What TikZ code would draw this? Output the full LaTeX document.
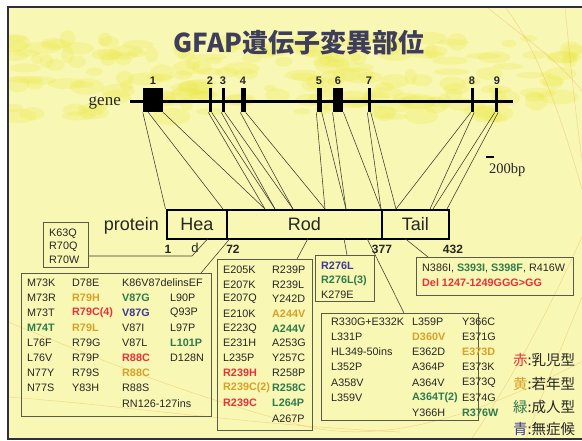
\documentclass[tikz,border=0pt]{standalone}
\usepackage{fontspec}
\newfontfamily\arialf{Liberation Sans}
\newfontfamily\timesf{Liberation Serif}
\newfontfamily\jpf{Noto Sans CJK JP}
\definecolor{slide}{HTML}{F9F7B4}
\definecolor{blot}{HTML}{EDEA4A}
\definecolor{frameC}{HTML}{2E2E3E}
\definecolor{ink}{HTML}{262626}
\definecolor{wire}{HTML}{3A3A30}
\definecolor{boxline}{HTML}{5A5A4A}
\definecolor{deco}{HTML}{E8B860}
\definecolor{mRed}{HTML}{E5323B}
\definecolor{mOra}{HTML}{D6A12A}
\definecolor{mGrn}{HTML}{2F7A4E}
\definecolor{mBlu}{HTML}{3A3A92}
\definecolor{titleC}{HTML}{3E3E5C}
\newcommand\mfont{\arialf\fontsize{10.8}{12}\selectfont}
\begin{document}
\begin{tikzpicture}[x=1pt,y=-1pt,
  mut/.style={anchor=west,inner sep=0pt,text=ink,font=\mfont},
  mr/.style={mut,text=mRed,font=\mfont\bfseries},
  mo/.style={mut,text=mOra,font=\mfont\bfseries},
  mg/.style={mut,text=mGrn,font=\mfont\bfseries},
  mb/.style={mut,text=mBlu,font=\mfont\bfseries},
  mbox/.style={draw=boxline,line width=0.8pt,inner sep=0pt,anchor=north west},
  exon/.style={fill=black,inner sep=0pt,minimum height=24pt,anchor=north},
  exnum/.style={font=\arialf\bfseries\fontsize{11}{12}\selectfont,inner sep=0pt,text=ink},
  link/.style={draw=wire,line width=0.55pt},
  dom/.style={draw=black,line width=1.6pt,inner sep=0pt,minimum height=29pt,
    anchor=north west,font=\arialf\fontsize{18}{20}\selectfont,text=ink},
  aanum/.style={font=\arialf\bfseries\fontsize{12}{14}\selectfont,inner sep=0pt,text=ink},
  leg/.style={anchor=west,inner sep=0pt,font=\jpf\fontsize{14.5}{16}\selectfont,text=ink},
  swirl/.style={draw=deco,opacity=0.5,line width=0.5pt},
]
\useasboundingbox (0,0) rectangle (582,441);
\clip (0,0) rectangle (582,441);
% slide background
\fill[white] (0,0) rectangle (582,441);
\fill[slide] (8,7) rectangle (600,439);
\begin{scope}
  \clip (8,7) rectangle (600,439);
  \pgfmathsetseed{11}
  \foreach \i in {1,...,190}{
    \pgfmathsetmacro\xx{12+566*rnd}
    \pgfmathsetmacro\yy{38+80*rnd}
    \pgfmathsetmacro\rx{6+14*rnd}
    \pgfmathsetmacro\ry{3+6*rnd}
    \fill[blot,opacity=0.26] (\xx,\yy) ellipse ({\rx pt} and {\ry pt});
  }
  % template swirls
  \draw[swirl] (487,7) .. controls (520,35) and (560,60) .. (585,95);
  \draw[swirl] (505,7) .. controls (535,45) and (560,110) .. (585,200);
  \draw[swirl] (565,7) .. controls (570,60) and (576,120) .. (585,180);
  \draw[swirl] (585,230) .. controls (545,320) and (505,390) .. (470,441);
  \draw[swirl] (585,290) .. controls (560,350) and (540,400) .. (525,441);
  \draw[swirl] (8,322) .. controls (90,355) and (170,390) .. (300,425) .. controls (380,445) and (470,420) .. (585,360);
  \draw[swirl] (8,397) .. controls (120,405) and (250,425) .. (400,432);
\end{scope}
\draw[frameC,line width=1.6pt] (600,439) -- (8,439) -- (8,7) -- (600,7);

% title
\node[font=\jpf\bfseries\fontsize{26}{28}\selectfont,text=titleC,inner sep=0pt] (title) at (299,43) {GFAP遺伝子変異部位};

% gene with exons
\coordinate (gL) at (130,101.7);
\coordinate (gR) at (513,101.7);
\draw[line width=3pt] (gL) -- (gR);
\node[font=\timesf\fontsize{17}{18}\selectfont,anchor=base east,inner sep=0pt,text=ink] (gene) at (121,106) {gene};
\node[exon,minimum width=20pt] (e1) at (153,88) {};
\node[exon,minimum width=3pt] (e2) at (210,88) {};
\node[exon,minimum width=3pt] (e3) at (223,88) {};
\node[exon,minimum width=5pt] (e4) at (243,88) {};
\node[exon,minimum width=5pt] (e5) at (319,88) {};
\node[exon,minimum width=10.5pt] (e6) at (338,88) {};
\node[exon,minimum width=3pt] (e7) at (369,88) {};
\node[exon,minimum width=3pt] (e8) at (472.5,88) {};
\node[exon,minimum width=3pt] (e9) at (496.5,88) {};
\foreach \n/\x in {1/153,2/210,3/223,4/243,5/319,6/338,7/369,8/472,9/497}
  \node[exnum] (n\n) at (\x,81) {\n};

% scale bar
\draw[line width=2pt] (486,157) -- (494,157);
\node[font=\timesf\fontsize{14.5}{16}\selectfont,anchor=west,inner sep=0pt,text=ink] (bp) at (489,170) {200bp};

% exon boundaries on the protein
\coordinate (q1) at (165.5,209);
\coordinate (q2) at (223,209);
\coordinate (q3) at (265,209);
\coordinate (q4) at (275,209);
\coordinate (q5) at (293,209);
\coordinate (q6) at (325,209);
\coordinate (q7) at (346,209);
\coordinate (q8) at (381,209);
\coordinate (q9) at (396,209);
\coordinate (q10) at (430,209);
\coordinate (q11) at (433,209);
\coordinate (q12) at (447,209);
\coordinate (e1m) at (148,112);
\draw[link] (e1.south west) -- (q1);
\draw[link] (e1m) -- (q2);
\draw[link] (e1.south east) -- (q3);
\draw[link] (e2.south west) -- (q3);
\draw[link] (e2.south east) -- (q4);
\draw[link] (e3.south west) -- (q4);
\draw[link] (e3.south east) -- (q5);
\draw[link] (e4.south west) -- (q5);
\draw[link] (e4.south east) -- (q6);
\draw[link] (e5.south west) -- (q6);
\draw[link] (e5.south east) -- (q7);
\draw[link] (e6.south west) -- (q7);
\draw[link] (e6.south east) -- (q8);
\draw[link] (e7.south west) -- (q8);
\draw[link] (e7.south east) -- (q9);
\draw[link] (e8.south west) -- (q9);
\draw[link] (e8.south east) -- (q10);
\draw[link] (e9.south west) -- (q11);
\draw[link] (e9.south east) -- (q12);

% protein domains
\node[font=\arialf\fontsize{18}{20}\selectfont,anchor=east,inner sep=0pt,text=ink] (prot) at (159,226) {protein};
\node[dom,minimum width=60pt] (hea) at (166,209) {Hea};
\node[dom,minimum width=155pt] (rod) at (226,209) {Rod};
\node[dom,minimum width=67pt] (tail) at (381,209) {Tail};
\node[aanum] (p1) at (168,249) {1};
\node[font=\arialf\fontsize{13}{14}\selectfont,inner sep=0pt,text=ink] (pd) at (195,248) {d};
\node[aanum] (p72) at (233,249) {72};
\node[aanum] (p377) at (382,249) {377};
\node[aanum] (p432) at (453,249) {432};

% mutation boxes
\node[mbox,minimum width=45pt,minimum height=45pt] (kbox) at (43,222) {};
\node[mbox,minimum width=190pt,minimum height=143pt] (mbox1) at (21,273) {};
\node[mbox,minimum width=95pt,minimum height=171pt] (mbox2) at (217,259) {};
\node[mbox,minimum width=59pt,minimum height=46pt] (mbox3) at (315,255) {};
\node[mbox,minimum width=157pt,minimum height=107pt] (mbox4) at (321,313) {};
\node[mbox,minimum width=157pt,minimum height=38pt] (mbox5) at (416,257) {};

% leaders from the protein to the boxes
\coordinate (kb) at (192,256);
\coordinate (hb) at (208,238.5);
\draw[link] (kb -| kbox.east) -- (kb) -- (hb);
\coordinate (r72) at (230,238.5);  \coordinate (m1t) at (201,273);
\coordinate (r205) at (308,238.5); \coordinate (m2t) at (297,259);
\coordinate (r276) at (344,238.5); \coordinate (m3t) at (347,255);
\coordinate (r377) at (367,238.5); \coordinate (m4t) at (404,313);
\coordinate (t386) at (405,238.5); \coordinate (m5t) at (428,257);
\draw[link] (r72) -- (m1t);
\draw[link] (r205) -- (m2t);
\draw[link] (r276) -- (m3t);
\draw[link] (r377) -- (m4t);
\draw[link] (t386) -- (m5t);

% head domain
\node[mut] (k1) at (49,234) {K63Q};
\node[mut] (k2) at (49,247) {R70Q};
\node[mut] (k3) at (49,260) {R70W};

% rod 1A
\node[mut] (a1) at (27,283) {M73K};
\node[mut] (a2) at (27,298) {M73R};
\node[mut] (a3) at (27,313) {M73T};
\node[mg]  (a4) at (27,328) {M74T};
\node[mut] (a5) at (27,343) {L76F};
\node[mut] (a6) at (27,358) {L76V};
\node[mut] (a7) at (27,373) {N77Y};
\node[mut] (a8) at (27,388) {N77S};
\node[mut] (b1) at (72,283) {D78E};
\node[mo]  (b2) at (72,298) {R79H};
\node[mr]  (b3) at (72,313) {R79C(4)};
\node[mo]  (b4) at (72,328) {R79L};
\node[mut] (b5) at (72,343) {R79G};
\node[mut] (b6) at (72,358) {R79P};
\node[mut] (b7) at (72,373) {R79S};
\node[mut] (b8) at (72,388) {Y83H};
\node[mut] (c1) at (122,283) {K86V87delinsEF};
\node[mg]  (c2) at (122,298) {V87G};
\node[mb]  (c3) at (122,313) {V87G};
\node[mut] (c4) at (122,328) {V87I};
\node[mut] (c5) at (122,343) {V87L};
\node[mr]  (c6) at (122,358) {R88C};
\node[mo]  (c7) at (122,373) {R88C};
\node[mut] (c8) at (122,388) {R88S};
\node[mut] (c9) at (122,404) {RN126-127ins};
\node[mut] (d2) at (170,298) {L90P};
\node[mut] (d3) at (170,313) {Q93P};
\node[mut] (d4) at (170,328) {L97P};
\node[mg]  (d5) at (170,343) {L101P};
\node[mut] (d6) at (170,358) {D128N};

% rod 2
\node[mut] (f1) at (223,270) {E205K};
\node[mut] (f2) at (223,284.5) {E207K};
\node[mut] (f3) at (223,299) {E207Q};
\node[mut] (f4) at (223,314) {E210K};
\node[mut] (f5) at (223,328.5) {E223Q};
\node[mut] (f6) at (223,343) {E231H};
\node[mut] (f7) at (223,358) {L235P};
\node[mr]  (f8) at (223,373) {R239H};
\node[mo]  (f9) at (223,388) {R239C(2)};
\node[mr]  (f10) at (223,403) {R239C};
\node[mut] (g1) at (272,270) {R239P};
\node[mut] (g2) at (272,284.5) {R239L};
\node[mut] (g3) at (272,299) {Y242D};
\node[mo]  (g4) at (272,314) {A244V};
\node[mg]  (g5) at (272,328.5) {A244V};
\node[mut] (g6) at (272,343) {A253G};
\node[mut] (g7) at (272,358) {Y257C};
\node[mut] (g8) at (272,373) {R258P};
\node[mg]  (g9) at (272,388) {R258C};
\node[mg]  (g10) at (272,403) {L264P};
\node[mut] (g11) at (272,418.5) {A267P};

\node[mb]  (h1) at (321,266) {R276L};
\node[mg]  (h2) at (321,281) {R276L(3)};
\node[mut] (h3) at (321,295) {K279E};

\node[mut] (i1) at (331,322) {R330G+E332K};
\node[mut] (i2) at (331,337) {L331P};
\node[mut] (i3) at (331,352) {HL349-50ins};
\node[mut] (i4) at (331,367) {L352P};
\node[mut] (i5) at (331,383) {A358V};
\node[mut] (i6) at (331,398) {L359V};
\node[mut] (j1) at (412,322) {L359P};
\node[mo]  (j2) at (412,337) {D360V};
\node[mut] (j3) at (412,352) {E362D};
\node[mut] (j4) at (412,367) {A364P};
\node[mut] (j5) at (412,383) {A364V};
\node[mg]  (j6) at (412,398) {A364T(2)};
\node[mut] (j7) at (412,413) {Y366H};
\node[mut] (l1) at (462,322) {Y366C};
\node[mut] (l2) at (462,337) {E371G};
\node[mo]  (l3) at (462,352) {E373D};
\node[mut] (l4) at (462,367) {E373K};
\node[mut] (l5) at (462,383) {E373Q};
\node[mut] (l6) at (462,398) {E374G};
\node[mg]  (l7) at (462,413) {R376W};

% tail
\node[mut] (s1) at (422,268) {N386I, \textcolor{mGrn}{\bfseries S393I}, \textcolor{mGrn}{\bfseries S398F}, R416W};
\node[mr]  (s2) at (422,283) {Del 1247-1249GGG>GG};

% phenotype key
\node[leg] (key1) at (513,360) {\textcolor{mRed}{赤}:乳児型};
\node[leg] (key2) at (513,384) {\textcolor{mOra}{黄}:若年型};
\node[leg] (key3) at (513,407) {\textcolor{mGrn}{緑}:成人型};
\node[leg] (key4) at (513,429) {\textcolor{mBlu}{青}:無症候};
\end{tikzpicture}
\end{document}
